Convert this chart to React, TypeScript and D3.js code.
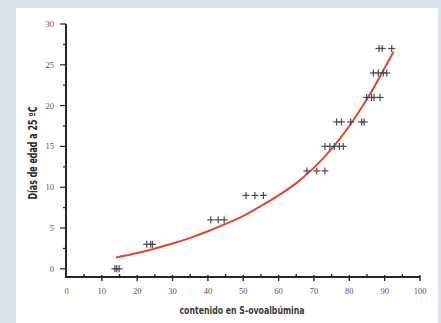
import { useEffect, useRef } from 'react';
import * as d3 from 'd3';

// crosses, grouped by day
const pointX = [
  13.7, 14.2, 14.9,
  22.7, 23.8, 24.3,
  40.8, 42.9, 44.6,
  50.8, 53.3, 55.7,
  68.0, 70.8, 73.1,
  73.1, 74.5, 75.8, 77.2, 78.3,
  76.4, 77.8, 80.4, 83.5, 84.2,
  84.9, 86.3, 87.0, 88.7,
  86.8, 88.2, 89.6, 90.6,
  88.4, 89.3, 92.0,
];
const pointY = [
  0, 0, 0,
  3, 3, 3,
  6, 6, 6,
  9, 9, 9,
  12, 12, 12,
  15, 15, 15, 15, 15,
  18, 18, 18, 18, 18,
  21, 21, 21, 21,
  24, 24, 24, 24,
  27, 27, 27,
];

// fitted curve
const curveX = [14, 20, 25, 30, 35, 40, 45, 50, 55, 60, 65, 70, 75, 80, 85, 90, 92.5];
const curveY = [1.4, 1.95, 2.5, 3.1, 3.8, 4.6, 5.5, 6.5, 7.7, 9.0, 10.5, 12.4, 14.7, 17.5, 20.8, 24.6, 26.6];

const xTicks = [0, 10, 20, 30, 40, 50, 60, 70, 80, 90, 100];
const yTicks = [0, 5, 10, 15, 20, 25, 30];

export default function App() {
  const svgRef = useRef<SVGSVGElement>(null);
  const width = 441;
  const height = 323;

  useEffect(() => {
    if (!svgRef.current) return;
    const svg = d3.select(svgRef.current);
    svg.selectAll('*').remove();

    svg.append('rect').attr('width', width).attr('height', height).attr('fill', '#dde3ee');
    svg.append('rect').attr('x', 16).attr('y', 8).attr('width', 422).attr('height', 320).attr('fill', '#ffffff');

    const x = d3.scaleLinear().domain([0, 100]).range([66.5, 420]);
    const y = d3.scaleLinear().domain([-1, 30]).range([277, 24]);

    const axisColor = '#262626';
    const x0 = x(0) - 0.5;
    const yBase = y(-1);

    // axis lines
    svg.append('path')
      .attr('d', `M${x0},${y(30)}V${yBase}H${x(100)}`)
      .attr('fill', 'none')
      .attr('stroke', axisColor)
      .attr('stroke-width', 2);

    // y ticks
    const yMinor = d3.range(0, 30.1, 2.5);
    svg.selectAll('.ytick')
      .data(yMinor)
      .enter().append('line')
      .attr('class', 'ytick')
      .attr('x1', d => x0 - (d % 5 === 0 ? 6 : 3))
      .attr('x2', x0)
      .attr('y1', d => y(d)).attr('y2', d => y(d))
      .attr('stroke', axisColor).attr('stroke-width', 1.2);

    svg.selectAll('.ylab')
      .data(yTicks)
      .enter().append('text')
      .attr('class', 'ylab')
      .attr('x', x0 - 12)
      .attr('y', d => y(d) + 3)
      .attr('text-anchor', 'end')
      .attr('font-family', 'Liberation Serif, serif')
      .attr('font-size', '8.5px')
      .attr('fill', '#555')
      .text(d => d);

    // x ticks
    const xMinor = d3.range(5, 100, 10);
    svg.selectAll('.xminor')
      .data(xMinor)
      .enter().append('line')
      .attr('class', 'xminor')
      .attr('x1', d => x(d)).attr('x2', d => x(d))
      .attr('y1', yBase - 3).attr('y2', yBase)
      .attr('stroke', axisColor).attr('stroke-width', 1.4);

    svg.selectAll('.xmajor')
      .data(xTicks.slice(1))
      .enter().append('line')
      .attr('class', 'xmajor')
      .attr('x1', d => x(d)).attr('x2', d => x(d))
      .attr('y1', yBase - 2).attr('y2', yBase + 4)
      .attr('stroke', axisColor).attr('stroke-width', 1.4);

    svg.selectAll('.xlab')
      .data(xTicks)
      .enter().append('text')
      .attr('class', 'xlab')
      .attr('x', d => x(d))
      .attr('y', yBase + 17)
      .attr('text-anchor', 'middle')
      .attr('font-family', 'Liberation Serif, serif')
      .attr('font-size', '8.5px')
      .attr('fill', '#555')
      .text(d => d);

    // axis titles
    svg.append('text')
      .attr('x', 242)
      .attr('y', 314)
      .attr('text-anchor', 'middle')
      .attr('font-family', 'DejaVu Sans Condensed, sans-serif')
      .attr('font-size', '11px')
      .attr('font-weight', 600)
      .attr('fill', '#3a3a3a')
      .attr('textLength', 125)
      .attr('lengthAdjust', 'spacingAndGlyphs')
      .text('contenido en S-ovoalbúmina');

    svg.append('text')
      .attr('transform', 'translate(37,153) rotate(-90)')
      .attr('text-anchor', 'middle')
      .attr('font-family', 'DejaVu Sans Condensed, sans-serif')
      .attr('font-size', '11.5px')
      .attr('font-weight', 700)
      .attr('fill', '#2a2a2a')
      .attr('textLength', 93)
      .attr('lengthAdjust', 'spacingAndGlyphs')
      .text('Días de edad a 25 ºC');

    // fitted curve
    const curveData = curveX.map((d, i) => [d, curveY[i]] as [number, number]);
    const line = d3.line<[number, number]>()
      .x(d => x(d[0]))
      .y(d => y(d[1]))
      .curve(d3.curveCatmullRom);

    svg.append('path')
      .datum(curveData)
      .attr('fill', 'none')
      .attr('stroke', '#e0472c')
      .attr('stroke-width', 2)
      .attr('d', line);

    // crosses
    const pts = pointX.map((d, i) => [d, pointY[i]] as [number, number]);
    const cross = svg.selectAll('.pt')
      .data(pts)
      .enter().append('g')
      .attr('class', 'pt')
      .attr('transform', d => `translate(${x(d[0])},${y(d[1])})`);
    cross.append('line')
      .attr('x1', -3.5).attr('x2', 3.5).attr('y1', 0).attr('y2', 0)
      .attr('stroke', '#4a4a4a').attr('stroke-width', 1.2);
    cross.append('line')
      .attr('x1', 0).attr('x2', 0).attr('y1', -3.5).attr('y2', 3.5)
      .attr('stroke', '#4a4a4a').attr('stroke-width', 1.2);
  }, []);

  return (
    <div style={{ position: 'absolute', top: 0, left: 0 }}>
      <svg ref={svgRef} width={width} height={height} style={{ display: 'block' }} />
    </div>
  );
}
